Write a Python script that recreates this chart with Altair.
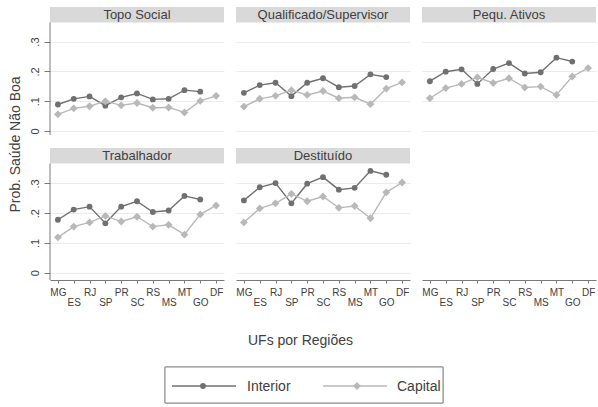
import altair as alt
import pandas as pd

# States, ordered by region
UFS = ["MG", "ES", "RJ", "SP", "PR", "SC", "RS", "MS", "MT", "GO", "DF"]
GRUPOS = ["Topo Social", "Qualificado/Supervisor", "Pequ. Ativos", "Trabalhador", "Destituído"]
SERIES = ["Interior", "Capital"]

# Probability of self-rated health not good, by class position (DF has no interior)
INTERIOR = {
    "Topo Social":            [0.089, 0.108, 0.116, 0.085, 0.113, 0.126, 0.106, 0.108, 0.137, 0.132, None],
    "Qualificado/Supervisor": [0.128, 0.154, 0.162, 0.117, 0.162, 0.177, 0.147, 0.151, 0.190, 0.181, None],
    "Pequ. Ativos":           [0.167, 0.199, 0.207, 0.158, 0.208, 0.228, 0.193, 0.197, 0.246, 0.233, None],
    "Trabalhador":            [0.178, 0.212, 0.222, 0.166, 0.222, 0.240, 0.204, 0.209, 0.258, 0.246, None],
    "Destituído":             [0.243, 0.287, 0.301, 0.233, 0.299, 0.321, 0.279, 0.285, 0.342, 0.329, None],
}
CAPITAL = {
    "Topo Social":            [0.056, 0.076, 0.083, 0.100, 0.086, 0.094, 0.078, 0.079, 0.062, 0.101, 0.118],
    "Qualificado/Supervisor": [0.082, 0.108, 0.118, 0.137, 0.121, 0.134, 0.110, 0.113, 0.090, 0.142, 0.163],
    "Pequ. Ativos":           [0.110, 0.144, 0.158, 0.180, 0.161, 0.177, 0.146, 0.149, 0.121, 0.183, 0.211],
    "Trabalhador":            [0.119, 0.155, 0.169, 0.191, 0.172, 0.188, 0.155, 0.161, 0.128, 0.196, 0.226],
    "Destituído":             [0.169, 0.216, 0.233, 0.265, 0.240, 0.256, 0.218, 0.224, 0.183, 0.270, 0.303],
}
Y_TICKS = [0, 0.1, 0.2, 0.3]

rows = []
for g in GRUPOS:
    for serie, table in (("Interior", INTERIOR), ("Capital", CAPITAL)):
        for uf, v in zip(UFS, table[g]):
            if v is not None:
                rows.append({"grupo": g, "uf": uf, "serie": serie, "prob": v})
df = pd.DataFrame(rows)

FONT = "Liberation Sans"
DARK = "#707070"
LIGHT = "#b8b8b8"
GRID = "#ebebeb"
AXIS = "#7a7a7a"
TEXT = "#404040"
HDR_FILL = "#d9d9d9"
HDR_H = 15.5

W = 174
ROW_H = [128, 132]
# y domains chosen so 0.1 spans ~30px and the strip sits above 0.4
ROW_DOM = [[-0.0134, 0.416], [-0.0242, 0.4188]]

STYLE = {
    "Interior": dict(color=DARK, shape="circle", size=34),
    "Capital": dict(color=LIGHT, shape="diamond", size=62),
}

uf_js = "[" + ",".join(f"'{u}'" for u in UFS) + "]"
stagger = f"indexof({uf_js}, datum.value) % 2 == 1 ? ['', datum.value] : datum.value"
ylab = "datum.value == 0 ? '0' : replace(format(datum.value, '.1f'), '0.', '.')"


def x_axis(title=None):
    kw = dict(
        labelExpr=stagger, labelAngle=0, labelFontSize=10, labelLineHeight=10,
        labelColor=TEXT, labelPadding=4, labelOverlap=False, labelFlush=False,
        tickSize=3, tickColor=AXIS, domainColor=AXIS, grid=False,
    )
    if title:
        kw.update(title=title, titleFontSize=14, titleFontWeight="normal", titleColor=TEXT,
                  titleX=64, titleY=64.5, titleBaseline="alphabetic", titleAlign="center")
    else:
        kw.update(title=None)
    return alt.Axis(**kw)


def y_axis(first_col, title=None):
    if first_col:
        kw = dict(
            values=Y_TICKS, labelExpr=ylab, grid=True, gridColor=GRID, domain=False,
            tickSize=6, tickColor=AXIS, labelAngle=270, labelAlign="center",
            labelBaseline="bottom", labelFontSize=11, labelColor=TEXT, labelPadding=4,
        )
        if title:
            kw.update(title=title, titleFontSize=14, titleFontWeight="normal",
                      titleColor=TEXT, titleAngle=270, titleX=-35, titleY=137,
                      titleAlign="center", titleBaseline="middle")
        else:
            kw.update(title=None)
        return alt.Axis(**kw)
    return alt.Axis(values=Y_TICKS, grid=True, gridColor=GRID, domain=False,
                    labels=False, ticks=False, title=None)


def x_enc(axis):
    return alt.X("uf:N", sort=UFS, scale=alt.Scale(type="point", domain=UFS, padding=0.5), axis=axis)


def panel(grupo, row, col, xtitle=None, ytitle=None):
    h = ROW_H[row]
    data = df[df.grupo == grupo]
    x = x_enc(x_axis(xtitle) if row == 1 else None)
    y = alt.Y("prob:Q", scale=alt.Scale(domain=ROW_DOM[row], nice=False, zero=False),
              axis=y_axis(col == 0, ytitle))
    layers = []
    for serie in SERIES:
        st = STYLE[serie]
        sub = alt.Chart(data).transform_filter(alt.datum.serie == serie)
        layers.append(sub.mark_line(color=st["color"], strokeWidth=1.4).encode(x=x, y=y))
        layers.append(sub.mark_point(shape=st["shape"], size=st["size"], filled=True,
                                     color=st["color"], opacity=1).encode(x=x, y=y))
    strip = pd.DataFrame({"grupo": [grupo]})
    layers.append(alt.Chart(strip).mark_rect(color=HDR_FILL).encode(
        x=alt.value(0), x2=alt.value(W), y=alt.value(0), y2=alt.value(HDR_H)))
    layers.append(alt.Chart(strip).mark_text(font=FONT, fontSize=13, color=TEXT, baseline="middle").encode(
        text="grupo:N", x=alt.value(W / 2), y=alt.value(HDR_H / 2 + 0.5)))
    if col == 0:
        layers.append(alt.Chart(strip).mark_rule(color=AXIS, strokeWidth=1).encode(
            x=alt.value(0), y=alt.value(HDR_H), y2=alt.value(h)))
    return alt.layer(*layers).properties(width=W, height=h)


# the sixth cell only carries the shared x axis
axis_only = alt.Chart(pd.DataFrame({"uf": UFS})).mark_point(opacity=0).encode(
    x=x_enc(x_axis()), y=alt.value(0)).properties(width=W, height=ROW_H[1])

# key below the panels
KEY_Y = 93
key_df = pd.DataFrame({"serie": SERIES})
key_layers = [
    alt.Chart(key_df).mark_rect(fill="white", stroke="#8a8a8a", strokeWidth=1).encode(
        x=alt.value(115), x2=alt.value(393), y=alt.value(74), y2=alt.value(110)),
]
KEY_POS = {"Interior": (122, 186, 153, 197), "Capital": (273, 337, 307, 347)}
for serie in SERIES:
    st = STYLE[serie]
    x0, x1, xm, xt = KEY_POS[serie]
    sub = alt.Chart(key_df).transform_filter(alt.datum.serie == serie)
    key_layers.append(sub.mark_rule(color=st["color"], strokeWidth=1.4).encode(
        x=alt.value(x0), x2=alt.value(x1), y=alt.value(KEY_Y)))
    key_layers.append(sub.mark_point(shape=st["shape"], size=st["size"], filled=True,
                                     color=st["color"], opacity=1).encode(
        x=alt.value(xm), y=alt.value(KEY_Y)))
    key_layers.append(sub.mark_text(font=FONT, fontSize=14, color=TEXT, align="left",
                                    baseline="middle").encode(
        text="serie:N", x=alt.value(xt), y=alt.value(KEY_Y + 0.5)))
key = alt.layer(*key_layers).properties(width=W, height=111)

chart = alt.concat(
    panel("Topo Social", 0, 0, ytitle="Prob. Saúde Não Boa"),
    panel("Qualificado/Supervisor", 0, 1),
    panel("Pequ. Ativos", 0, 2),
    panel("Trabalhador", 1, 0),
    panel("Destituído", 1, 1, xtitle="UFs por Regiões"),
    axis_only,
    key,
    columns=3,
    spacing={"row": 13, "column": 12},
    bounds="flush",
    align="each",
).properties(
    padding={"left": 8, "top": 7, "right": 2, "bottom": 2},
    background="white",
).configure(font=FONT).configure_view(stroke=None)

chart.save("out.html", embed_options={"renderer": "svg", "actions": False})
